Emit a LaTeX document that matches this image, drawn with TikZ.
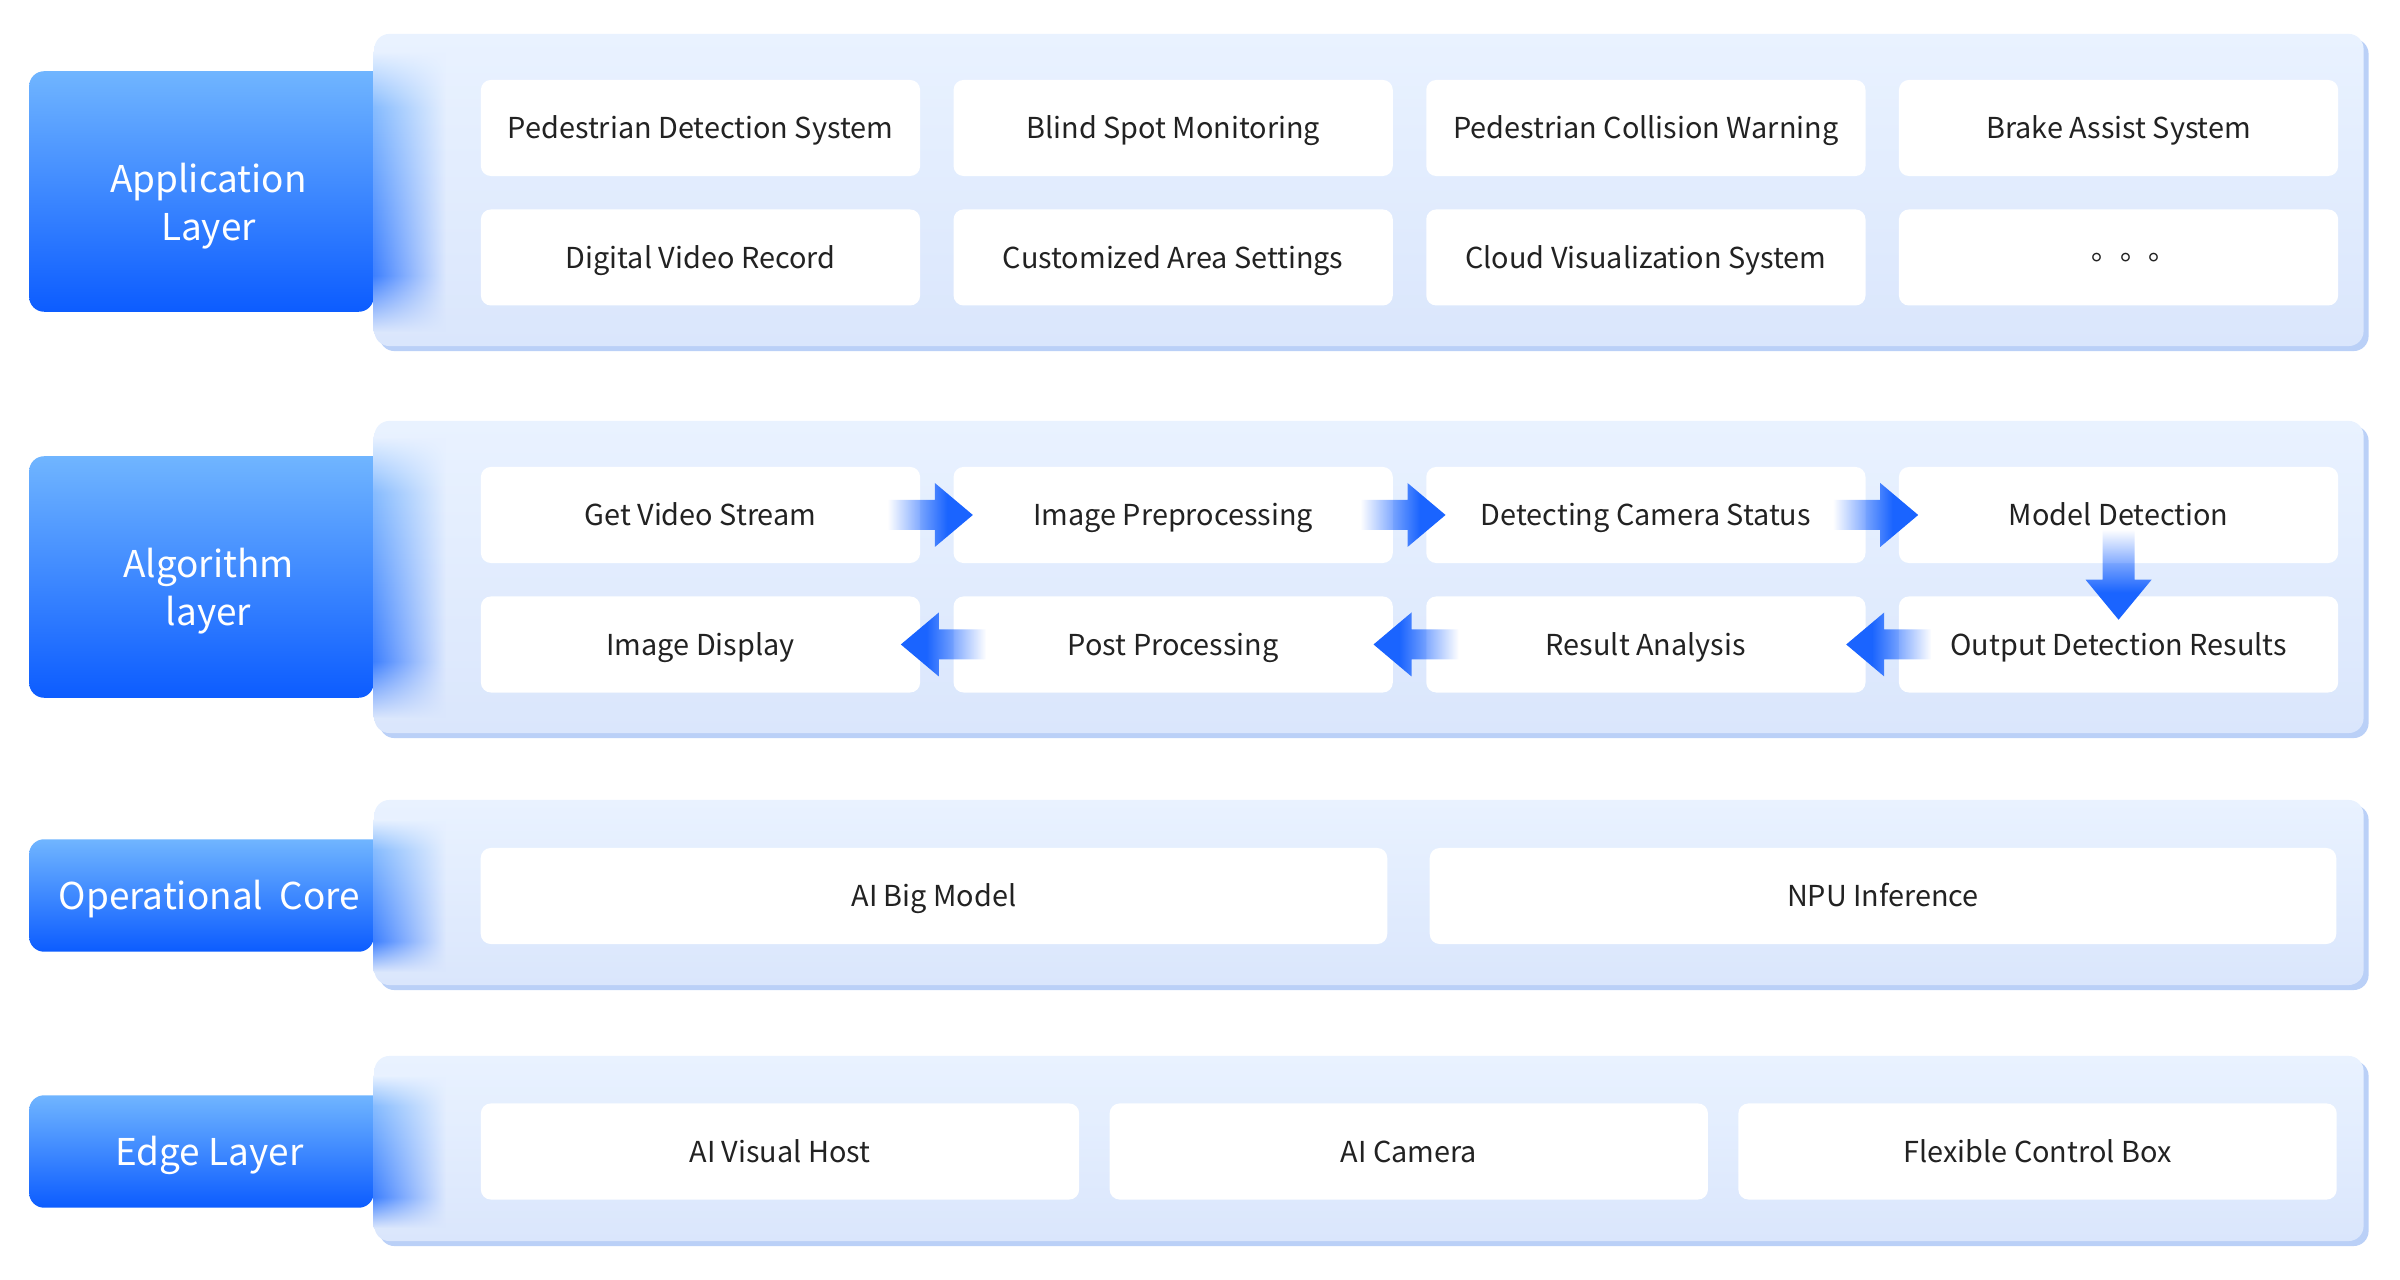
\documentclass[tikz,border=0pt]{standalone}
\usepackage{fontspec}
\setmainfont{Noto Sans CJK SC}
\newfontfamily\dotsfont{Noto Sans CJK TC}
\usepackage{tikz}
\usetikzlibrary{positioning, shadows, calc, fadings}
\usepackage{xcolor}
\definecolor{TitleTop}{RGB}{112,181,255}
\definecolor{TitleBottom}{RGB}{12,92,255}
\definecolor{PanelTop}{RGB}{233,242,255}
\definecolor{PanelBottom}{RGB}{218,230,252}
\definecolor{PanelEdge}{RGB}{186,208,247}
\definecolor{GlowTop}{RGB}{135,188,255}
\definecolor{GlowBottom}{RGB}{62,128,255}
\definecolor{FlowBlue}{RGB}{26,100,255}
\definecolor{BoxText}{RGB}{34,34,34}

% fadings for the flow arrows and the glow at the panel edge
\pgfdeclarehorizontalshading{flowshadeR}{100bp}{color(0bp)=(black); color(25bp)=(black); color(60bp)=(white); color(100bp)=(white)}
\pgfdeclarefading{flowfadeR}{\pgfuseshading{flowshadeR}}
\pgfdeclarehorizontalshading{flowshadeL}{100bp}{color(0bp)=(white); color(40bp)=(white); color(75bp)=(black); color(100bp)=(black)}
\pgfdeclarefading{flowfadeL}{\pgfuseshading{flowshadeL}}
\pgfdeclareverticalshading{flowshadeD}{100bp}{color(0bp)=(white); color(40bp)=(white); color(75bp)=(black); color(100bp)=(black)}
\pgfdeclarefading{flowfadeD}{\pgfuseshading{flowshadeD}}
\pgfdeclareverticalshading{glowshade}{100bp}{color(0bp)=(PanelBottom); color(25bp)=(PanelBottom); color(35bp)=(GlowBottom); color(65bp)=(GlowTop); color(75bp)=(PanelTop); color(100bp)=(PanelTop)}
\tikzfading[name=glowfade, left color=transparent!0, right color=transparent!100]

\newcommand{\flowright}[2]{\fill[FlowBlue, path fading=flowfadeR] ($(#1.east)!0.5!(#2.west)+(-49,-15)$) -- ++(47,0) -- ++(0,-17) -- ++(38,32) -- ++(-38,32) -- ++(0,-17) -- ++(-47,0) -- cycle;}
\newcommand{\flowleft}[2]{\fill[FlowBlue, path fading=flowfadeL] ($(#2.east)!0.5!(#1.west)+(49,-15)$) -- ++(-47,0) -- ++(0,-17) -- ++(-38,32) -- ++(38,32) -- ++(0,-17) -- ++(47,0) -- cycle;}
\newcommand{\flowdown}[2]{\fill[FlowBlue, path fading=flowfadeD] ($(#1.south)!0.5!(#2.north)+(-16,-50)$) -- ++(0,50) -- ++(-17,0) -- ++(33,40) -- ++(33,-40) -- ++(-17,0) -- ++(0,-50) -- cycle;}
\newcommand{\panelglow}[1]{\shade[shading=glowshade, path fading=glowfade] ($(#1.north east)+(0,-20)$) rectangle ($(#1.south east)+(72,20)$);}
\newcommand{\titlefill}[1]{\shade[top color=TitleTop, bottom color=TitleBottom] (#1.north east) [rounded corners=0.15cm] -| (#1.south west) -- (#1.south east) [sharp corners] -- cycle;}

\begin{document}
\begin{tikzpicture}[x=0.01cm, y=-0.01cm,
    node distance=0.32cm and 0.32cm,
    panel/.style={rectangle, rounded corners=0.15cm, top color=PanelTop, bottom color=PanelBottom, minimum width=19.88cm, inner sep=0pt, drop shadow={shadow xshift=0.05cm, shadow yshift=-0.05cm, fill=PanelEdge, opacity=1}},
    titlebox/.style={rectangle, minimum width=3.43cm, inner sep=0pt, anchor=east},
    titletext/.style={text=white, align=center, inner sep=0pt, anchor=base, font=\fontsize{10.5}{13.7}\selectfont},
    module/.style={rectangle, rounded corners=0.1cm, fill=white, minimum width=4.39cm, minimum height=0.96cm, inner sep=0pt, text height=7.6pt, text depth=1.6pt, text=BoxText, font=\fontsize{8.2}{10}\selectfont}
  ]
  \useasboundingbox (0,0) rectangle (2400,1280);

  % application layer
  \node[panel, minimum height=3.12cm] (appP) at (1369,190) {};
  \node[titlebox, minimum height=2.39cm] (appB) at ($(appP.west)+(0,1.5)$) {};
  \titlefill{appB}
  \panelglow{appB}
  \node[titletext] (appT) at ($(appB)+(7,49)$) {Application\\Layer};
  \node[module] (pds) at (700.5,128) {Pedestrian Detection System};
  \node[module, right=of pds] (bsm) {Blind Spot Monitoring};
  \node[module, right=of bsm] (pcw) {Pedestrian Collision Warning};
  \node[module, right=of pcw] (bas) {Brake Assist System};
  \node[module, below=of pds] (dvr) {Digital Video Record};
  \node[module, right=of dvr] (cas) {Customized Area Settings};
  \node[module, right=of cas] (cvs) {Cloud Visualization System};
  \node[module, right=of cvs] (more) {\hspace*{0.14cm}\dotsfont 。。。};

  % algorithm layer
  \node[panel, minimum height=3.12cm] (algP) at (1369,577) {};
  \node[titlebox, minimum height=2.40cm] (algB) at (algP.west) {};
  \titlefill{algB}
  \panelglow{algB}
  \node[titletext] (algT) at ($(algB)+(7,49)$) {Algorithm\\layer};
  \node[module] (gvs) at (700.5,515) {Get Video Stream};
  \node[module, right=of gvs] (ipp) {Image Preprocessing};
  \node[module, right=of ipp] (dcs) {Detecting Camera Status};
  \node[module, right=of dcs] (mdt) {Model Detection};
  \node[module, below=of gvs] (idp) {Image Display};
  \node[module, right=of idp] (ppr) {Post Processing};
  \node[module, right=of ppr] (ran) {Result Analysis};
  \node[module, right=of ran] (odr) {Output Detection Results};
  \flowright{gvs}{ipp}
  \flowright{ipp}{dcs}
  \flowright{dcs}{mdt}
  \flowdown{mdt}{odr}
  \flowleft{odr}{ran}
  \flowleft{ran}{ppr}
  \flowleft{ppr}{idp}

  % operational core
  \node[panel, minimum height=1.85cm] (opsP) at (1369,892.5) {};
  \node[titlebox, minimum height=1.11cm] (opsB) at ($(opsP.west)+(0,3)$) {};
  \titlefill{opsB}
  \panelglow{opsB}
  \node[titletext] (opsT) at ($(opsB)+(8,14)$) {Operational\ \ Core};
  \node[module, minimum width=9.06cm] (abm) at (934,896) {AI Big Model};
  \node[module, minimum width=9.06cm, right=0.41cm of abm] (npu) {NPU Inference};

  % edge layer
  \node[panel, minimum height=1.85cm] (edgP) at (1369,1148.5) {};
  \node[titlebox, minimum height=1.11cm] (edgB) at ($(edgP.west)+(0,3)$) {};
  \titlefill{edgB}
  \panelglow{edgB}
  \node[titletext] (edgT) at ($(edgB)+(8,14)$) {Edge Layer};
  \node[module, minimum width=5.98cm] (avh) at (780,1151.5) {AI Visual Host};
  \node[module, minimum width=5.98cm, right=0.29cm of avh] (aic) {AI Camera};
  \node[module, minimum width=5.98cm, right=0.29cm of aic] (fcb) {Flexible Control Box};
\end{tikzpicture}
\end{document}
